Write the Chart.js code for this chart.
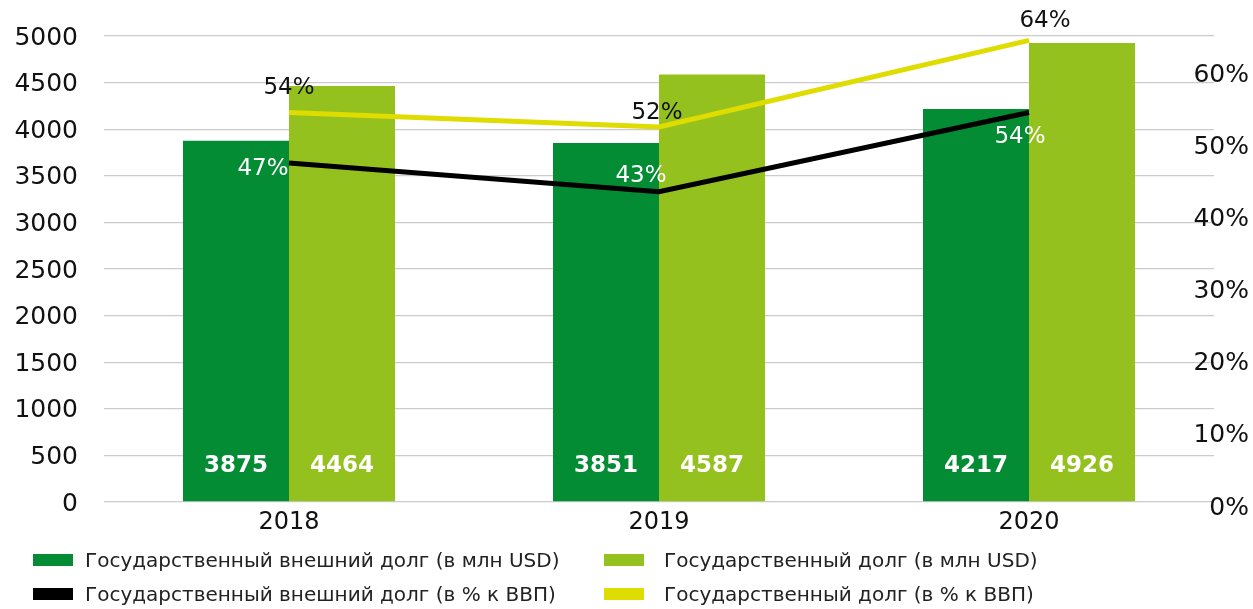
<!DOCTYPE html>
<html>
<head>
<meta charset="utf-8">
<script src="https://cdn.jsdelivr.net/npm/chart.js@4"></script>
<style>
  html, body { margin: 0; padding: 0; background: #fff; }
  #wrap { position: relative; width: 1253px; height: 609px; }
  #legend { position: absolute; left: 0; top: 0; font-family: "DejaVu Sans", sans-serif; font-size: 20px; color: #222; }
  .box { position: absolute; width: 40px; height: 12px; }
  .lbl { position: absolute; line-height: 24px; white-space: nowrap; }
</style>
</head>
<body>
<div id="wrap">
  <canvas id="c" width="1253" height="609"></canvas>
  <div id="legend"></div>
</div>
<script>
// chart data
const years = ['2018', '2019', '2020'];
const extDebtUsd = [3875, 3851, 4217];
const totalDebtUsd = [4464, 4587, 4926];
const extDebtPct = [47, 43, 54];
const totalDebtPct = [54, 52, 64];
const seriesNames = [
  'Государственный внешний долг (в млн USD)',
  'Государственный долг (в млн USD)',
  'Государственный внешний долг (в % к ВВП)',
  'Государственный долг (в % к ВВП)'
];

const DARK = '#048c34';
const LIGHT = '#95c11f';
const YELLOW = '#dfdc00';
const FONT = '"DejaVu Sans", sans-serif';

// labels on top of bars and line points
const labelPlugin = {
  id: 'labels',
  afterDatasetsDraw(chart) {
    const ctx = chart.ctx;
    ctx.save();
    ctx.textBaseline = 'middle';
    // bar values, near the bottom of each bar
    [0, 1].forEach(di => {
      const meta = chart.getDatasetMeta(di);
      meta.data.forEach((bar, i) => {
        ctx.font = 'bold 23px ' + FONT;
        ctx.fillStyle = '#fff';
        ctx.textAlign = 'center';
        ctx.fillText(chart.data.datasets[di].data[i], bar.x, bar.base - 35);
      });
    });
    // percentage labels
    const offs = {
      2: [[-26, 6], [-18, -16], [-9, 25]],
      3: [[0, -24], [-2, -14], [16, -19]]
    };
    [2, 3].forEach(di => {
      const meta = chart.getDatasetMeta(di);
      meta.data.forEach((pt, i) => {
        ctx.font = '23px ' + FONT;
        ctx.fillStyle = di === 2 ? '#fff' : '#111';
        ctx.textAlign = 'center';
        const o = offs[di][i];
        ctx.fillText(chart.data.datasets[di].data[i] + '%', pt.x + o[0], pt.y + o[1]);
      });
    });
    ctx.restore();
  }
};

new Chart(document.getElementById('c'), {
  data: {
    labels: years,
    datasets: [
      { type: 'bar', label: seriesNames[0], data: extDebtUsd, backgroundColor: DARK, yAxisID: 'y', order: 2,
        categoryPercentage: 0.573, barPercentage: 1 },
      { type: 'bar', label: seriesNames[1], data: totalDebtUsd, backgroundColor: LIGHT, yAxisID: 'y', order: 2,
        categoryPercentage: 0.573, barPercentage: 1 },
      { type: 'line', label: seriesNames[2], data: extDebtPct, borderColor: '#000', borderWidth: 5,
        pointRadius: 0, tension: 0, yAxisID: 'y2', order: 1 },
      { type: 'line', label: seriesNames[3], data: totalDebtPct, borderColor: YELLOW, borderWidth: 5,
        pointRadius: 0, tension: 0, yAxisID: 'y2', order: 1 }
    ]
  },
  options: {
    responsive: false,
    animation: false,
    layout: { padding: { top: 36, left: 0, right: 0, bottom: 0 } },
    plugins: { legend: { display: false }, tooltip: { enabled: false } },
    scales: {
      x: {
        grid: { display: false },
        border: { display: false },
        ticks: { color: '#111', font: { family: FONT, size: 24 }, padding: -2 },
        afterFit: s => { s.height = 107; s.paddingLeft = 0; s.paddingRight = 0; }
      },
      y: {
        position: 'left',
        min: 0, max: 5000,
        grid: { color: '#cccccc', lineWidth: 1.3, drawTicks: false },
        border: { display: false },
        ticks: { stepSize: 500, color: '#111', font: { family: FONT, size: 25 }, padding: 26, labelOffset: 2,
          callback: v => String(v) },
        afterFit: s => { s.width = 104; s.paddingTop = 0; s.paddingBottom = 0; }
      },
      y2: {
        position: 'right',
        min: 0, max: 64.6,
        grid: { display: false, drawTicks: false },
        border: { display: false },
        ticks: { stepSize: 10, includeBounds: false, mirror: true, padding: 35, labelOffset: 6,
          color: '#111', font: { family: FONT, size: 25 }, callback: v => v + '%' },
        afterFit: s => { s.width = 39; s.paddingTop = 0; s.paddingBottom = 0; }
      }
    }
  },
  plugins: [labelPlugin]
});

// legend, two columns
const legendColors = [DARK, LIGHT, '#000', YELLOW];
const legendPos = [[33, 554], [604, 554], [33, 588], [604, 588]];
const legendText = [85, 664];
const lg = document.getElementById('legend');
seriesNames.forEach((name, i) => {
  const p = legendPos[i];
  const box = document.createElement('div');
  box.className = 'box';
  box.style.left = p[0] + 'px';
  box.style.top = p[1] + 'px';
  box.style.background = legendColors[i];
  lg.appendChild(box);
  const t = document.createElement('div');
  t.className = 'lbl';
  t.style.left = legendText[i % 2] + 'px';
  t.style.top = (p[1] - 6) + 'px';
  t.textContent = name;
  lg.appendChild(t);
});
</script>
</body>
</html>
